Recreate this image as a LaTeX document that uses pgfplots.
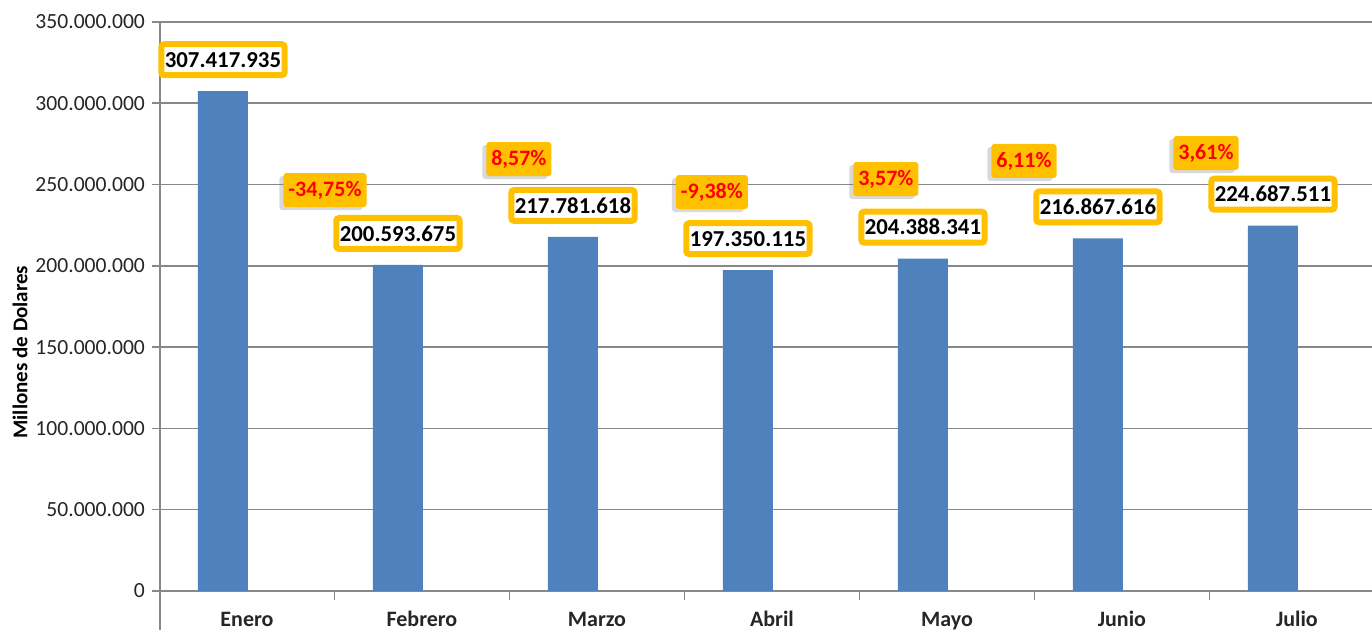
\documentclass[border=0pt]{standalone}
\usepackage{fontspec}
\setmainfont{Carlito}
\usepackage{pgfplots}
\pgfplotsset{compat=1.18}
\usetikzlibrary{shadows}
\definecolor{barblue}{HTML}{4F81BD}
\definecolor{gold}{HTML}{FFC000}
\definecolor{gridgray}{HTML}{888888}
\definecolor{txt}{HTML}{262626}
\begin{document}
\begin{tikzpicture}
\begin{axis}[
    scale only axis,
    width=606pt, height=304pt,
    xmin=-0.497, xmax=6.429,
    ymin=-24e6, ymax=350e6,
    axis lines*=left,
    x axis line style={draw=none},
    y axis line style={gridgray, line width=0.8pt},
    ybar, bar width=25pt, bar shift=-12pt,
    xtick={0,1,2,3,4,5,6},
    xticklabels={Enero,Febrero,Marzo,Abril,Mayo,Junio,Julio},
    xtick style={draw=none},
    xticklabel style={anchor=base, yshift=5.5pt, inner sep=0pt, font=\fontsize{11}{13}\selectfont\bfseries, text=txt},
    scaled y ticks=false,
    ytick={0,5e7,1e8,1.5e8,2e8,2.5e8,3e8,3.5e8},
    yticklabels={0,50.000.000,100.000.000,150.000.000,200.000.000,250.000.000,300.000.000,350.000.000},
    yticklabel style={font=\fontsize{10.8}{12}\selectfont, text=txt},
    ytick style={gridgray, line width=0.8pt},
    tick align=outside, major tick length=4pt,
    ymajorgrids, grid style={gridgray, line width=0.8pt},
    ylabel={Millones de Dolares},
    ylabel style={at={(axis description cs:-0.1155,0.457)}, anchor=center,
        font=\fontsize{10.5}{12}\selectfont\bfseries, text=black},
    point meta=explicit symbolic,
    nodes near coords={\pgfplotspointmeta},
    every node near coord/.append style={anchor=south, yshift=6.5pt,
        draw=gold, line width=3pt, fill=white, rounded corners=1.5pt,
        inner xsep=1.8pt, inner ysep=1pt, minimum height=15.5pt,
        font=\fontsize{11.4}{13}\selectfont\bfseries, text=black},
    clip=false,
]
\addplot[fill=barblue, draw=none] coordinates {
(0,307417935) [307.417.935]
(1,200593675) [200.593.675]
(2,217781618) [217.781.618]
(3,197350115) [197.350.115]
(4,204388341) [204.388.341]
(5,216867616) [216.867.616]
(6,224687511) [224.687.511]
};
\draw[gridgray, line width=0.8pt] (axis cs:0.5,0) -- (axis cs:0.5,-5.5e6)
  (axis cs:1.5,0) -- (axis cs:1.5,-5.5e6)
  (axis cs:2.5,0) -- (axis cs:2.5,-5.5e6)
  (axis cs:3.5,0) -- (axis cs:3.5,-5.5e6)
  (axis cs:4.5,0) -- (axis cs:4.5,-5.5e6)
  (axis cs:5.5,0) -- (axis cs:5.5,-5.5e6);
\tikzset{pct/.style={fill=gold, text=red, rounded corners=1.5pt,
    inner xsep=2.5pt, minimum height=17pt,
    font=\fontsize{11}{13}\selectfont\bfseries,
    drop shadow={shadow xshift=-2pt, shadow yshift=-1.5pt, opacity=0.3}}}
\node[pct] at (axis cs:0.446,246.6e6) {-34,75\%};
\node[pct] at (axis cs:1.554,265.7e6) {8,57\%};
\node[pct] at (axis cs:2.657,245.4e6) {-9,38\%};
\node[pct] at (axis cs:3.651,253.4e6) {3,57\%};
\node[pct] at (axis cs:4.440,264.5e6) {6,11\%};
\node[pct] at (axis cs:5.480,269.4e6) {3,61\%};
\end{axis}
\pgfresetboundingbox
\path[use as bounding box] (-80pt,0pt) rectangle (606pt,315pt);
\end{tikzpicture}
\end{document}
